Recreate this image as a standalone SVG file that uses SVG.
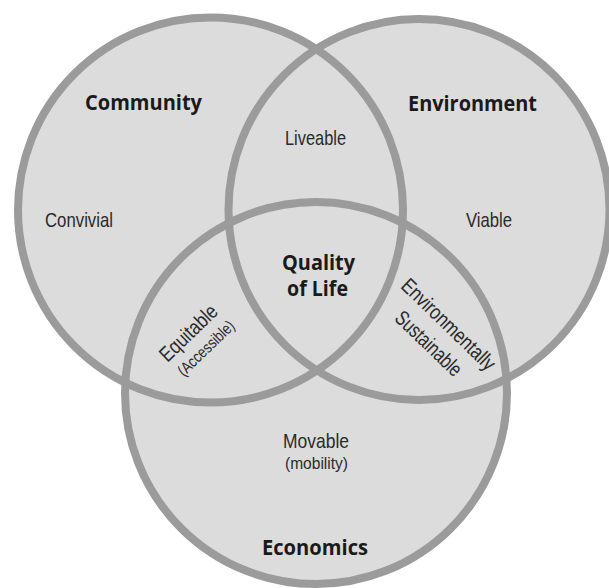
<svg xmlns="http://www.w3.org/2000/svg" width="609" height="588" viewBox="0 0 609 588">
<style>
.fill{fill:#dcdcdc;stroke:none}
.ring{fill:none;stroke:#9b9b9b;stroke-width:8}
.h{font-family:"Open Sans","Liberation Sans",sans-serif;font-weight:bold;font-size:21px;fill:#1a1a1a;text-anchor:middle}
.t{font-family:"Liberation Sans","Open Sans",sans-serif;font-size:21px;fill:#2a2a2a;text-anchor:middle}
.s{font-family:"Liberation Sans","Open Sans",sans-serif;font-size:16px;fill:#2a2a2a;text-anchor:middle}
</style>
<rect width="609" height="588" fill="#ffffff"/>
<g id="fills">
<circle class="fill" cx="210.5" cy="210" r="192.5"/>
<circle class="fill" cx="419" cy="209.5" r="190.5"/>
<circle class="fill" cx="316" cy="393" r="191"/>
</g>
<g id="community">
<circle class="ring" cx="210.5" cy="210" r="192.5"/>
<text class="h" x="143.5" y="110" textLength="117" lengthAdjust="spacingAndGlyphs">Community</text>
<text class="t" x="79" y="227" textLength="68" lengthAdjust="spacingAndGlyphs">Convivial</text>
</g>
<g id="environment">
<circle class="ring" cx="419" cy="209.5" r="190.5"/>
<text class="h" x="472.5" y="111" textLength="129" lengthAdjust="spacingAndGlyphs">Environment</text>
<text class="t" x="489" y="227" textLength="46" lengthAdjust="spacingAndGlyphs">Viable</text>
</g>
<g id="economics">
<circle class="ring" cx="316" cy="393" r="191"/>
<text class="t" x="316" y="448" textLength="66" lengthAdjust="spacingAndGlyphs">Movable</text>
<text class="s" x="316.5" y="468.5" textLength="63" lengthAdjust="spacingAndGlyphs">(mobility)</text>
<text class="h" x="315" y="555" textLength="106" lengthAdjust="spacingAndGlyphs">Economics</text>
</g>
<g id="liveable">
<text class="t" x="315.5" y="145" textLength="61" lengthAdjust="spacingAndGlyphs">Liveable</text>
</g>
<g id="quality-of-life">
<text class="h" x="318.5" y="270" textLength="73" lengthAdjust="spacingAndGlyphs">Quality</text>
<text class="h" x="317.5" y="296" textLength="61" lengthAdjust="spacingAndGlyphs">of Life</text>
</g>
<g id="equitable" transform="translate(188.5,333) rotate(-44)">
<text class="t" x="0" y="7" textLength="72" lengthAdjust="spacingAndGlyphs">Equitable</text>
<text class="s" x="2" y="28.5" textLength="72" lengthAdjust="spacingAndGlyphs">(Accessible)</text>
</g>
<g id="sustainable" transform="translate(448.5,324.5) rotate(44)">
<text class="t" x="0" y="7" textLength="122" lengthAdjust="spacingAndGlyphs">Environmentally</text>
<text class="t" x="-1" y="34.5" textLength="84" lengthAdjust="spacingAndGlyphs">Sustainable</text>
</g>
<g id="connectors"/>
</svg>
